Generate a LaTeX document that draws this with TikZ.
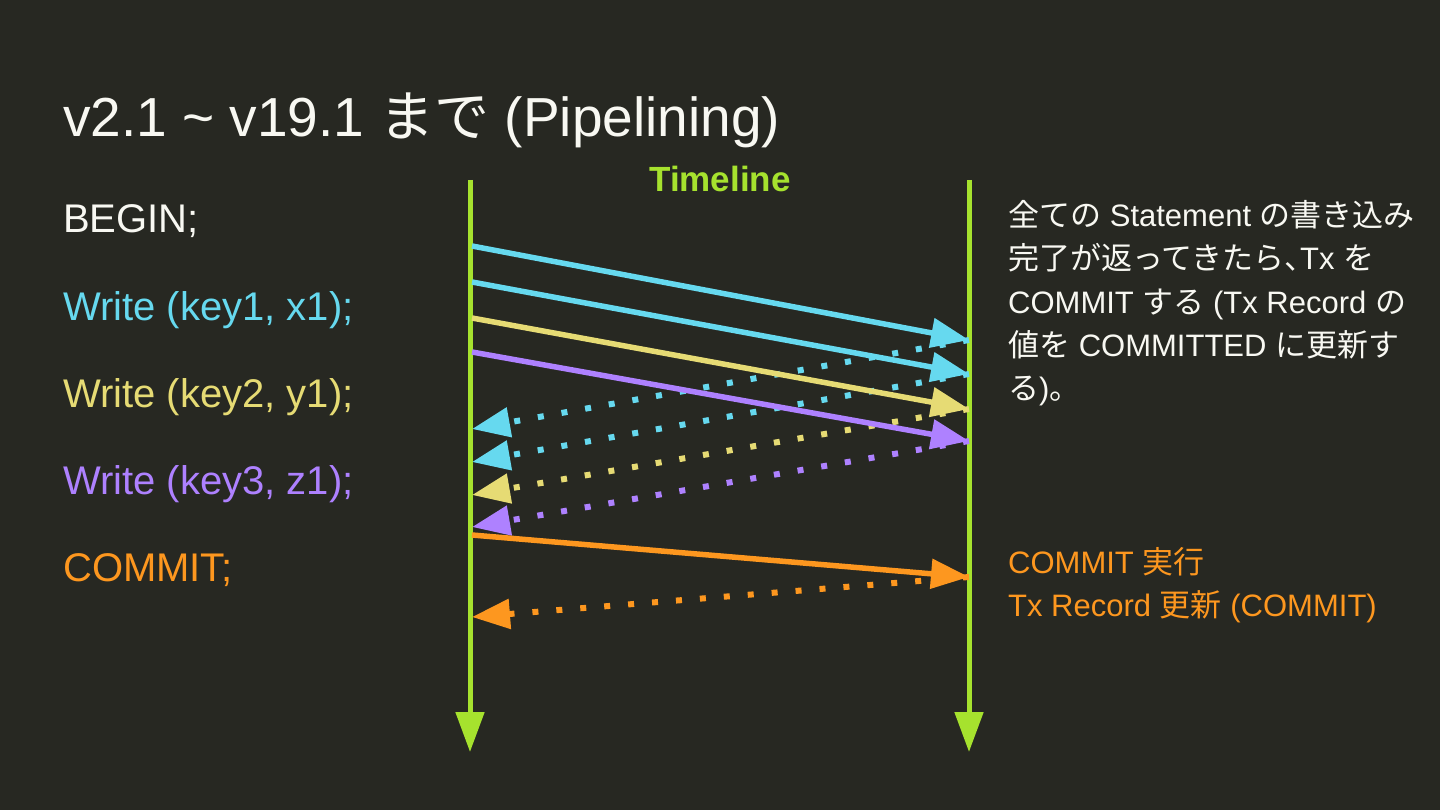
\documentclass[tikz,border=0pt]{standalone}
\usepackage{fontspec}
\setmainfont{Liberation Sans}
\newfontfamily\jp{Noto Sans CJK JP}
\newfontfamily\jphalt[RawFeature=+halt]{Noto Sans CJK JP}
\usetikzlibrary{arrows.meta}
\definecolor{bg}{HTML}{272822}
\definecolor{fg}{HTML}{F8F8F2}
\definecolor{mcyan}{HTML}{66D9EF}
\definecolor{myellow}{HTML}{E6DB74}
\definecolor{mpurple}{HTML}{AE81FF}
\definecolor{morange}{HTML}{FD971F}
\definecolor{mgreen}{HTML}{A6E22E}
\tikzset{
  lbl/.style={anchor=base west, inner sep=0pt, font=\fontsize{40}{48}\selectfont},
  note/.style={anchor=base west, inner sep=0pt, font=\fontsize{31}{38}\selectfont},
  tl/.style={line width=5pt, draw=mgreen, -{Triangle[length=40pt,width=28pt]}},
  req/.style={line width=5.5pt, -{Triangle[length=38pt,width=29pt]}},
  resp/.style={line width=6pt, dash pattern=on 6pt off 18pt, -{Triangle[length=38pt,width=29pt]}},
}
\begin{document}
\begin{tikzpicture}[x=1pt,y=-1pt]
\fill[bg] (0,0) rectangle (1440,810);
\useasboundingbox (0,0) rectangle (1440,810);

\node[anchor=base west, inner sep=0pt, text=fg, font=\fontsize{55}{62}\selectfont] (title) at (63,137) {v2.1 \char`\~{} v19.1 {\jp まで} (Pipelining)};

\node[lbl, text=fg] (begin) at (63,233) {BEGIN;};
\node[lbl, text=mcyan] (w1) at (63,320) {Write (key1, x1);};
\node[lbl, text=myellow] (w2) at (63,407) {Write (key2, y1);};
\node[lbl, text=mpurple] (w3) at (63,494) {Write (key3, z1);};
\node[lbl, text=morange] (cm) at (63,581) {COMMIT;};

\node[anchor=base, inner sep=0pt, text=mgreen, font=\fontsize{35}{40}\selectfont\bfseries] (timeline) at (720,192) {Timeline};

\coordinate (Ltop) at (470,180);
\coordinate (Lbot) at (470,752);
\coordinate (Rtop) at (969,180);
\coordinate (Rbot) at (969,752);
\draw[tl] (Ltop) -- (Lbot);
\draw[tl] (Rtop) -- (Rbot);

% requests
\coordinate (a1) at (472,246); \coordinate (b1) at (969,340);
\coordinate (a2) at (472,282); \coordinate (b2) at (969,374);
\coordinate (a3) at (472,318); \coordinate (b3) at (969,409);
\coordinate (a4) at (472,352); \coordinate (b4) at (969,441);
\coordinate (a5) at (472,535); \coordinate (b5) at (969,577);
% responses
\coordinate (c1) at (472,429);
\coordinate (c2) at (472,462);
\coordinate (c3) at (472,495);
\coordinate (c4) at (472,527);
\coordinate (c5) at (472,617);

\draw[resp, mcyan] (b1) -- (c1);
\draw[resp, mcyan] (b2) -- (c2);
\draw[resp, myellow] (b3) -- (c3);
\draw[resp, mpurple] (b4) -- (c4);
\draw[resp, morange] (b5) -- (c5);

\draw[req, mcyan] (a1) -- (b1);
\draw[req, mcyan] (a2) -- (b2);
\draw[req, myellow] (a3) -- (b3);
\draw[req, mpurple] (a4) -- (b4);
\draw[req, morange] (a5) -- (b5);

\node[note, text=fg] (n1) at (1008,227) {{\jp 全ての} Statement {\jp の書き込み}};
\node[note, text=fg] (n2) at (1008,270) {{\jp 完了が返ってきたら}{\jphalt 、}Tx {\jp を}};
\node[note, text=fg] (n3) at (1008,313) {COMMIT {\jp する} (Tx Record {\jp の}};
\node[note, text=fg] (n4) at (1008,356) {{\jp 値を} COMMITTED {\jp に更新す}};
\node[note, text=fg] (n5) at (1008,399) {{\jp る}){\jp 。}};

\node[note, text=morange] (o1) at (1008,573) {COMMIT {\jp 実行}};
\node[note, text=morange] (o2) at (1008,616) {Tx Record {\jp 更新} (COMMIT)};
\end{tikzpicture}
\end{document}
